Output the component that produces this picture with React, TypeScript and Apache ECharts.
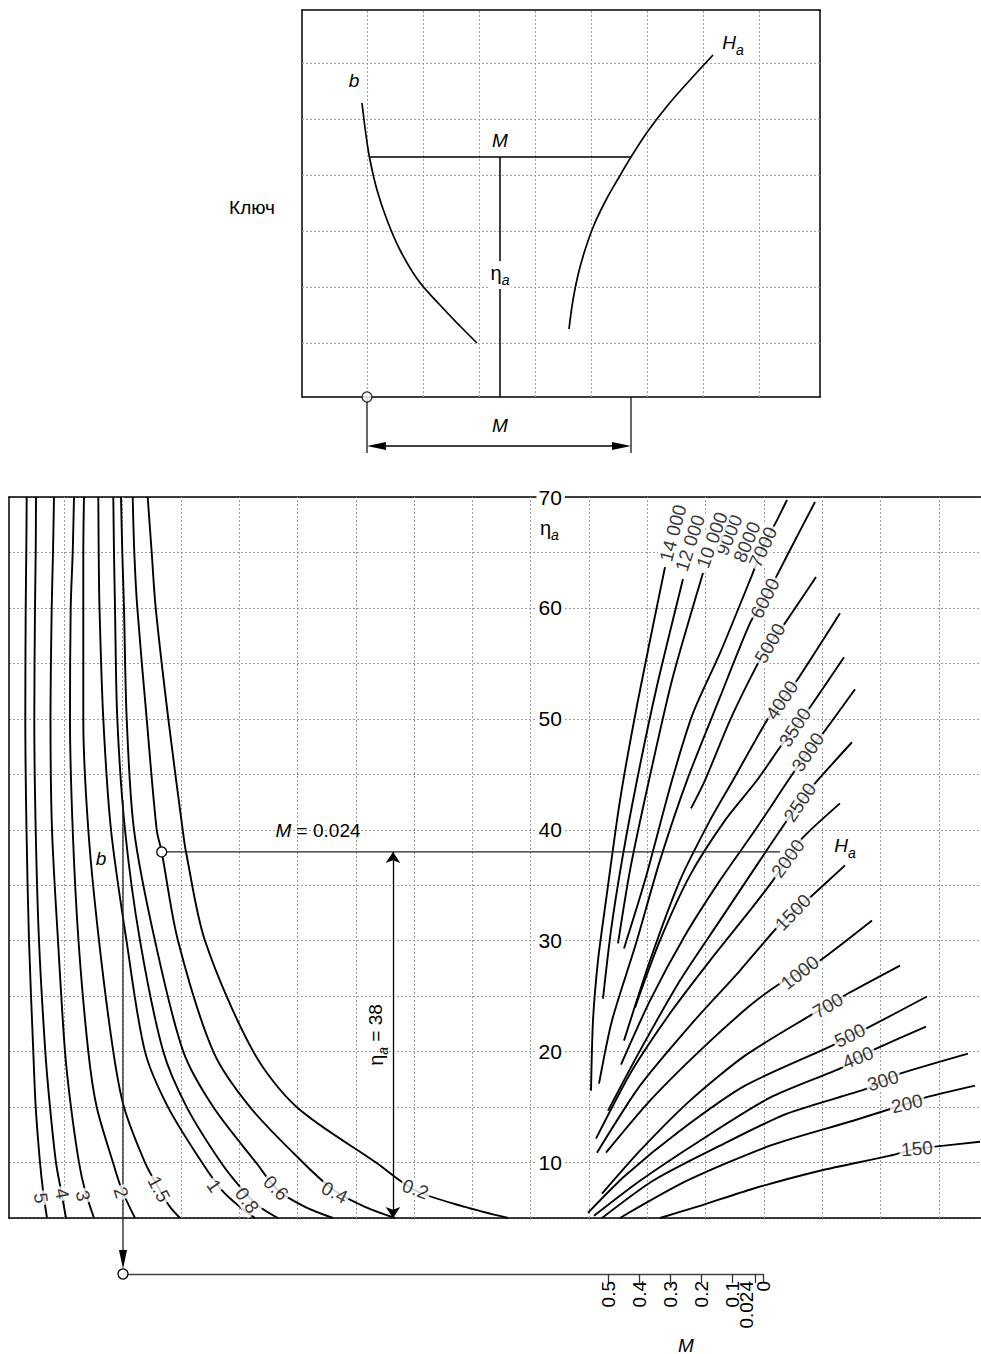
import React, { useEffect, useRef } from 'react';
import * as echarts from 'echarts';

const FONT = '"Liberation Sans", Arial, Helvetica, sans-serif';

// ---------------- DATA ----------------
// eta (vertical) axis of the main chart
const etaTickLabels = [10, 20, 30, 40, 50, 60, 70];
// M scale below the chart
const mTickValues = [0, 0.024, 0.1, 0.2, 0.3, 0.4, 0.5];
const mMainLabels = [0.1, 0.2, 0.3, 0.4, 0.5];
const mExampleLabel = [0.024];
const mZeroLabel = [0];

// left family: curves of constant b  ([horizontal position, eta])
const bNames = ['5', '4', '3', '2', '1.5', '1', '0.8', '0.6', '0.4', '0.2'];
const bCurve5 = [[2.07, 70], [2.03, 65], [1.97, 60], [1.93, 50], [2.05, 40], [2.3, 30], [2.73, 20], [2.97, 15], [3.4, 10], [3.7, 7.5], [4.1, 5]];
const bCurve4 = [[3.0, 70], [2.97, 65], [2.9, 60], [2.83, 50], [2.97, 40], [3.3, 30], [3.93, 20], [4.4, 15], [5.0, 10], [5.5, 7.5], [6.0, 5]];
const bCurve3 = [[4.8, 70], [4.7, 65], [4.57, 60], [4.45, 50], [4.6, 40], [5.2, 30], [5.9, 20], [6.5, 15], [7.3, 10], [7.9, 7.5], [8.8, 5]];
const bCurve2 = [[6.8, 70], [6.67, 65], [6.47, 60], [6.4, 50], [6.67, 40], [7.25, 30], [8.23, 20], [9.07, 15], [10.7, 10], [11.6, 7.5], [12.9, 5]];
const bCurve15 = [[7.8, 70], [7.73, 65], [7.73, 60], [7.73, 50], [8.23, 40], [9.3, 30], [10.73, 20], [11.8, 15], [13.9, 10], [15.4, 7.5], [16.4, 6], [17.4, 5]];
const bCurve1 = [[9.23, 70], [9.27, 65], [9.35, 60], [9.73, 50], [10.5, 40], [12.05, 30], [13.9, 20], [16.2, 15], [19.6, 10], [21.6, 7.5], [23.4, 6], [24.9, 5]];
const bCurve08 = [[10.73, 70], [10.8, 65], [10.9, 60], [11.13, 50], [11.9, 40], [13.4, 30], [15.73, 20], [18.07, 15], [21.5, 10], [23.7, 7.5], [25.4, 6], [27.2, 5]];
const bCurve06 = [[11.5, 70], [11.63, 65], [11.8, 60], [12.07, 50], [12.8, 40], [14.9, 30], [17.73, 20], [20.73, 15], [25.0, 10], [27.2, 7.5], [29.9, 6], [32.7, 5]];
const bCurve04 = [[12.67, 70], [12.83, 65], [13.13, 60], [14.07, 50], [15.07, 40], [15.57, 38], [17.2, 30], [20.73, 20], [24.4, 15], [29.7, 10], [32.8, 7.5], [35.9, 6], [38.9, 5]];
const bCurve02 = [[14.17, 70], [14.57, 65], [14.97, 60], [16.23, 50], [17.67, 40], [18.0, 38], [19.9, 30], [24.73, 20], [29.07, 15], [37.0, 10], [40.9, 7.5], [45.9, 6], [50.2, 5]];
const bCurves = [bCurve5, bCurve4, bCurve3, bCurve2, bCurve15, bCurve1, bCurve08, bCurve06, bCurve04, bCurve02];
const bLabelAt = [[3.5, 6.8], [5.6, 7.2], [7.7, 7.0], [11.5, 7.3], [15.3, 7.6], [20.8, 7.9], [24.1, 6.6], [27.0, 7.7], [32.85, 7.3], [40.95, 7.6]];

// right family: curves of constant H_a
const hNames = ['150', '200', '300', '400', '500', '700', '1000', '1500', '2000', '2500', '3000', '3500', '4000', '5000', '6000', '7000', '8000', '9000', '10 000', '12 000', '14 000'];
const hCurve150 = [[65.4, 5.0], [69.4, 6.1], [74.7, 7.64], [81.4, 9.26], [88.4, 10.62], [91.1, 11.25], [92.9, 11.43], [97.4, 11.88]];
const hCurve200 = [[61.4, 5.0], [68.1, 8.36], [76.4, 11.52], [84.7, 13.77], [90.1, 15.31], [91.9, 15.85], [96.9, 16.93]];
const hCurve300 = [[59.6, 5.0], [64.7, 8.36], [71.4, 11.52], [78.1, 14.41], [86.1, 16.66], [87.7, 17.38], [89.4, 18.02], [96.2, 19.82]];
const hCurve400 = [[58.8, 5.2], [63.4, 8.36], [69.4, 11.97], [76.4, 15.85], [83.6, 18.56], [85.2, 19.46], [86.8, 20.18], [92.0, 22.26]];
const hCurve500 = [[58.2, 5.47], [61.9, 8.81], [67.4, 12.87], [73.9, 16.93], [82.6, 20.54], [84.4, 21.45], [86.2, 22.17], [92.1, 24.97]];
const hCurve700 = [[59.6, 7.19], [63.4, 11.07], [68.4, 15.58], [73.9, 19.64], [80.4, 23.25], [82.2, 24.15], [84.2, 25.24], [89.4, 27.76]];
const hCurve1000 = [[60.0, 10.89], [64.4, 15.58], [69.4, 20.09], [74.4, 24.15], [77.4, 26.14], [79.4, 27.13], [81.4, 28.21], [86.6, 31.83]];
const hCurve1500 = [[59.1, 10.89], [63.4, 16.93], [68.4, 22.35], [73.4, 27.31], [77.1, 31.19], [78.7, 32.55], [80.4, 33.9], [83.9, 36.79]];
const hCurve2000 = [[59.0, 12.15], [62.6, 18.29], [66.6, 23.7], [70.4, 28.21], [74.4, 32.73], [76.7, 35.44], [78.2, 37.42], [79.7, 39.31], [83.4, 42.38]];
const hCurve2500 = [[60.2, 14.68], [63.4, 20.09], [67.4, 26.41], [71.4, 31.83], [75.4, 37.24], [77.9, 40.58], [79.4, 42.47], [80.9, 44.19], [84.6, 47.89]];
const hCurve3000 = [[61.5, 18.83], [64.4, 24.6], [67.9, 30.47], [71.4, 35.44], [74.9, 39.95], [78.7, 45.09], [80.2, 46.99], [81.7, 48.7], [84.9, 52.67]];
const hCurve3500 = [[62.9, 23.97], [65.4, 30.02], [68.4, 35.89], [71.9, 40.85], [75.1, 44.46], [77.4, 47.44], [78.9, 49.24], [80.4, 51.05], [83.8, 55.56]];
const hCurve4000 = [[61.8, 20.99], [64.4, 28.21], [67.4, 35.44], [70.4, 40.85], [72.7, 44.46], [76.1, 49.87], [77.6, 51.68], [78.9, 53.21], [83.4, 59.53]];
const hCurve5000 = [[68.5, 41.93], [69.9, 44.46], [72.4, 49.87], [75.1, 54.84], [76.4, 56.82], [77.9, 58.63], [81.0, 62.78]];
const hCurve6000 = [[59.3, 17.11], [60.6, 22.8], [63.0, 29.75], [65.4, 37.24], [68.1, 44.46], [71.4, 51.95], [74.4, 58.63], [75.9, 60.88], [78.4, 65.22], [80.9, 69.55]];
const hCurve7000 = [[61.8, 29.3], [63.9, 35.44], [66.6, 44.46], [68.7, 50.51], [71.4, 55.92], [74.6, 62.96], [75.7, 65.49], [77.1, 67.92], [78.1, 69.73]];
const hCurve10000 = [[61.2, 29.75], [62.4, 36.34], [64.3, 44.46], [66.6, 53.48], [69.7, 63.14]];
const hCurve12000 = [[59.7, 24.78], [60.5, 30.92], [61.6, 37.24], [63.1, 44.46], [65.0, 52.58], [67.7, 62.6]];
const hCurve14000 = [[58.5, 16.48], [58.7, 22.8], [59.2, 28.21], [60.0, 33.63], [61.4, 42.65], [63.2, 51.68], [65.9, 63.68]];
// (the 8000 and 9000 curves carry only their labels in the picture)
const hCurves = [hCurve150, hCurve200, hCurve300, hCurve400, hCurve500, hCurve700, hCurve1000, hCurve1500, hCurve2000, hCurve2500, hCurve3000, hCurve3500, hCurve4000, hCurve5000, hCurve6000, hCurve7000, hCurve10000, hCurve12000, hCurve14000];
const hLabelAt = [[91.1, 11.25], [90.1, 15.31], [87.7, 17.38], [85.2, 19.46], [84.4, 21.45], [82.2, 24.15], [79.4, 27.13], [78.7, 32.55], [78.2, 37.42], [79.4, 42.47], [80.2, 46.99], [78.9, 49.24], [77.6, 51.68], [76.4, 56.82], [75.9, 60.88], [75.7, 65.49], [74.1, 65.94], [72.3, 66.57], [70.6, 66.12], [68.4, 65.85], [66.7, 66.75]];

// worked example: eta_a = 38, M = 0.024
const exampleEta = 38;
const exampleLineX = [15.57, 77.4];
const exampleArrowX = 38.7;
const exampleBLine = [[11.7, 42.65], [11.7, 5]];

// key (schematic) panel curves
const keyBCurve = [[6.0, 29.4], [6.4, 26.2], [6.8, 23.7], [7.5, 20.7], [8.5, 17.7], [9.8, 14.7], [11.6, 11.7], [13.8, 9.2], [15.8, 7.1], [17.5, 5.4]];
const keyHCurve = [[26.7, 6.8], [27.1, 9.7], [27.6, 12.2], [28.3, 14.7], [29.2, 17.2], [30.4, 19.7], [31.6, 21.8], [32.9, 24.0], [34.6, 26.6], [36.6, 29.2], [38.8, 31.7], [41.1, 34.2]];
const keyMLine = [[6.8, 24.0], [32.9, 24.0]];
const keyEtaLine = [[19.8, 24.0], [19.8, 0]];
const keyStart = [[6.5, 0]];

// ---------------- STYLE ----------------
const bLabelAngle = [-82, -80, -78, -72, -62, -55, -55, -45, -27, -20];
const hLabelAngle = [5, 13, 17, 22, 26, 31, 38, 46, 54, 56, 56, 57, 56, 60, 63, 65, 67, 68, 70, 72, 75];
const GRID_COLOR = '#9d9d9d';
const gridDash = [2, 2];
const M_GRID = { left: 123, top: 1264, width: 640, height: 10 };

function curveSeries(data: number[][], xi: number, yi: number, width = 1.9, smooth = 0.3) {
  return {
    type: 'line', xAxisIndex: xi, yAxisIndex: yi, data, smooth, showSymbol: false,
    silent: true, lineStyle: { color: '#000', width }, z: 2,
  };
}

function mLabelAxis(gridIndex: number, values: number[], extra: any = {}) {
  return {
    gridIndex, type: 'value', inverse: true, min: 0, max: 2.065,
    axisLine: { show: false }, axisTick: { show: false }, splitLine: { show: false },
    axisLabel: {
      show: true, customValues: values, rotate: 90, margin: 7, color: '#000',
      fontSize: 19, fontFamily: FONT, formatter: (v: number) => String(v), ...extra,
    },
  };
}

function buildOption() {
  const series: any[] = [];

  // main vertical grid lines
  const mainV: number[] = [];
  for (let k = 1; k <= 16; k++) mainV.push(5.83 * k);
  series.push({
    type: 'line', xAxisIndex: 0, yAxisIndex: 0, data: [], silent: true,
    markLine: {
      silent: true, symbol: ['none', 'none'], label: { show: false }, z: 1,
      lineStyle: { color: GRID_COLOR, width: 1, type: gridDash },
      data: mainV.map((v) => ({ xAxis: v })),
    },
  });
  // key grid lines
  const keyV: number[] = [];
  for (let k = 0; k <= 7; k++) keyV.push(6.5 + 5.6 * k);
  const keyH: number[] = [];
  for (let k = 0; k <= 5; k++) keyH.push(5.4 + 5.6 * k);
  series.push({
    type: 'line', xAxisIndex: 2, yAxisIndex: 2, data: [], silent: true,
    markLine: {
      silent: true, symbol: ['none', 'none'], label: { show: false }, z: 1,
      lineStyle: { color: GRID_COLOR, width: 1, type: gridDash },
      data: [...keyV.map((v) => ({ xAxis: v })), ...keyH.map((v) => ({ yAxis: v }))],
    },
  });

  bCurves.forEach((c) => series.push(curveSeries(c, 0, 0)));
  hCurves.forEach((c) => series.push(curveSeries(c, 0, 0, 1.9, 0.25)));

  const labelStyle = {
    show: true, position: 'inside', color: '#000', fontSize: 19, fontFamily: FONT,
    backgroundColor: '#fff', padding: [0, 2, 0, 2],
  };
  const labelItems = [
    ...bNames.map((n, i) => ({ value: bLabelAt[i], label: { ...labelStyle, formatter: n, rotate: bLabelAngle[i] } })),
    ...hNames.map((n, i) => ({ value: hLabelAt[i], label: { ...labelStyle, formatter: n, rotate: hLabelAngle[i] } })),
  ];
  series.push({
    type: 'scatter', xAxisIndex: 0, yAxisIndex: 0, symbolSize: 1, silent: true, z: 4, clip: false,
    itemStyle: { color: 'rgba(0,0,0,0)' }, data: labelItems,
  });

  // worked example construction lines
  series.push({
    type: 'line', xAxisIndex: 0, yAxisIndex: 0, silent: true, z: 3,
    lineStyle: { color: '#222', width: 1.3 }, symbolSize: 10,
    itemStyle: { color: '#fff', borderColor: '#000', borderWidth: 1.3 },
    data: [
      { value: [exampleLineX[0], exampleEta], symbol: 'circle' },
      { value: [exampleLineX[1], exampleEta], symbol: 'none' },
    ],
    markLine: {
      silent: true, symbol: ['arrow', 'arrow'], symbolSize: [11, 11], label: { show: false },
      lineStyle: { color: '#000', width: 1.3, type: 'solid' },
      data: [[{ coord: [exampleArrowX, exampleEta] }, { coord: [exampleArrowX, 5] }]],
    },
  });
  series.push({
    type: 'line', xAxisIndex: 0, yAxisIndex: 0, silent: true, z: 3, showSymbol: false,
    lineStyle: { color: '#222', width: 1.3 }, data: exampleBLine,
  });

  // key panel
  series.push(curveSeries(keyBCurve, 2, 2, 1.7, 0.4));
  series.push(curveSeries(keyHCurve, 2, 2, 1.7, 0.4));
  series.push({ type: 'line', xAxisIndex: 2, yAxisIndex: 2, silent: true, showSymbol: false, lineStyle: { color: '#000', width: 1.5 }, data: keyMLine });
  series.push({ type: 'line', xAxisIndex: 2, yAxisIndex: 2, silent: true, showSymbol: false, lineStyle: { color: '#000', width: 1.5 }, data: keyEtaLine });
  series.push({
    type: 'scatter', xAxisIndex: 2, yAxisIndex: 2, silent: true, clip: false, z: 5, symbolSize: 10,
    itemStyle: { color: '#fff', borderColor: '#000', borderWidth: 1.3 }, data: keyStart,
  });

  const axisBlack = { show: true, onZero: false, lineStyle: { color: '#000', width: 1.5 } };
  const hidden = { axisTick: { show: false }, axisLabel: { show: false }, splitLine: { show: false } };

  const ital = { fontStyle: 'italic', fontSize: 19, fontFamily: FONT, fill: '#000' };
  const etaRich = {
    g: { fontSize: 20, fontFamily: FONT, lineHeight: 24, verticalAlign: 'top' },
    s: { fontSize: 14, fontStyle: 'italic', fontFamily: FONT, lineHeight: 14, verticalAlign: 'bottom' },
    t: { fontSize: 19, fontFamily: FONT, lineHeight: 24, verticalAlign: 'top' },
    i: { fontSize: 19, fontStyle: 'italic', fontFamily: FONT, lineHeight: 24, verticalAlign: 'top' },
  };
  const txt = (x: number, y: number, text: string, extra: any = {}, rotation = 0) => ({
    type: 'text', x, y, rotation, z: 20, silent: true,
    style: { text, fontSize: 19, fontFamily: FONT, fill: '#000', align: 'center', verticalAlign: 'middle', rich: etaRich, ...extra },
  });

  const graphic: any[] = [
    txt(252, 207, 'Ключ'),
    txt(354, 80, 'b', ital),
    txt(733, 45, '{i|H}{s|a}'),
    txt(500, 140, 'M', ital),
    txt(500, 275, '{g|η}{s|a}', { backgroundColor: '#fff', padding: [2, 2, 2, 2] }),
    txt(500, 425, 'M', ital),
    // key bottom dimension
    { type: 'line', silent: true, shape: { x1: 367, y1: 397, x2: 367, y2: 453 }, style: { stroke: '#000', lineWidth: 1.2 } },
    { type: 'line', silent: true, shape: { x1: 631, y1: 397, x2: 631, y2: 453 }, style: { stroke: '#000', lineWidth: 1.2 } },
    { type: 'line', silent: true, shape: { x1: 375, y1: 446, x2: 623, y2: 446 }, style: { stroke: '#000', lineWidth: 1.3 } },
    { type: 'polygon', silent: true, shape: { points: [[367, 446], [386, 442], [386, 450]] }, style: { fill: '#000' } },
    { type: 'polygon', silent: true, shape: { points: [[631, 446], [612, 442], [612, 450]] }, style: { fill: '#000' } },
    // main chart texts
    txt(540, 530, '{g|η}{s|a}', { align: 'left' }),
    txt(318, 833, '{i|M}{t| = 0.024}'),
    txt(378, 1035, '{g|η}{s|a}{t| = 38}', {}, Math.PI / 2),
    txt(101, 858, 'b', ital),
    txt(845, 848, '{i|H}{s|a}'),
    txt(686, 1345, 'M', ital),
    // b construction line continued to the M scale
    { type: 'line', silent: true, shape: { x1: 123, y1: 1218, x2: 123, y2: 1255 }, style: { stroke: '#222', lineWidth: 1.3 } },
    { type: 'polygon', silent: true, shape: { points: [[123, 1269], [119, 1250], [127, 1250]] }, style: { fill: '#000' } },
    { type: 'circle', silent: true, z: 20, shape: { cx: 123, cy: 1274, r: 5 }, style: { fill: '#fff', stroke: '#000', lineWidth: 1.3 } },
  ];

  return {
    animation: false,
    backgroundColor: '#fff',
    grid: [
      { left: 9, top: 497, right: 0, height: 721 },
      { left: 302, top: 10, width: 518, height: 387 },
      { ...M_GRID },
      { ...M_GRID },
      { ...M_GRID },
    ],
    xAxis: [
      { gridIndex: 0, type: 'value', min: 0.3, max: 97.5, axisLine: axisBlack, ...hidden },
      { gridIndex: 0, type: 'value', position: 'top', min: 0.3, max: 97.5, axisLine: axisBlack, ...hidden },
      { gridIndex: 1, type: 'value', min: 0, max: 51.8, axisLine: axisBlack, ...hidden },
      { gridIndex: 1, type: 'value', position: 'top', min: 0, max: 51.8, axisLine: axisBlack, ...hidden },
      {
        gridIndex: 2, type: 'value', inverse: true, min: 0, max: 2.065,
        axisLine: { show: true, onZero: false, lineStyle: { color: '#444', width: 1.3 } },
        axisTick: { show: true, customValues: mTickValues, length: 9, lineStyle: { color: '#333', width: 1.3 } },
        splitLine: { show: false },
        axisLabel: {
          show: true, customValues: mMainLabels, rotate: 90, margin: 7, color: '#000',
          fontSize: 19, fontFamily: FONT, formatter: (v: number) => String(v),
        },
      },
      mLabelAxis(3, mExampleLabel, { verticalAlign: 'bottom' }),
      mLabelAxis(4, mZeroLabel),
    ],
    yAxis: [
      {
        gridIndex: 0, type: 'value', min: 5, max: 70, interval: 5, axisLine: axisBlack,
        axisTick: { show: false }, axisLabel: { show: false },
        splitLine: { show: true, lineStyle: { color: GRID_COLOR, width: 1, type: gridDash } },
      },
      {
        gridIndex: 0, type: 'value', min: 5, max: 70, position: 'left', offset: -521.5, z: 6,
        axisLine: { show: false }, axisTick: { show: false }, splitLine: { show: false },
        axisLabel: {
          show: true, inside: true, margin: 6, customValues: etaTickLabels,
          fontSize: 21, fontFamily: FONT, color: '#000', backgroundColor: '#fff', padding: [0, 3, 0, 2],
        },
      },
      { gridIndex: 1, type: 'value', min: 0, max: 38.7, axisLine: axisBlack, ...hidden },
      { gridIndex: 1, type: 'value', position: 'right', min: 0, max: 38.7, axisLine: axisBlack, ...hidden },
      { gridIndex: 2, type: 'value', min: 0, max: 1, show: false },
      { gridIndex: 3, type: 'value', min: 0, max: 1, show: false },
      { gridIndex: 4, type: 'value', min: 0, max: 1, show: false },
    ],
    series,
    graphic,
  };
}

export default function App() {
  const ref = useRef<HTMLDivElement>(null);
  useEffect(() => {
    const chart = echarts.init(ref.current as HTMLDivElement, null, { renderer: 'svg' });
    chart.setOption(buildOption() as any);
    return () => chart.dispose();
  }, []);
  return (
    <div
      ref={ref}
      style={{ position: 'fixed', left: 0, top: 0, width: 981, height: 1354, background: '#fff' }}
    />
  );
}
